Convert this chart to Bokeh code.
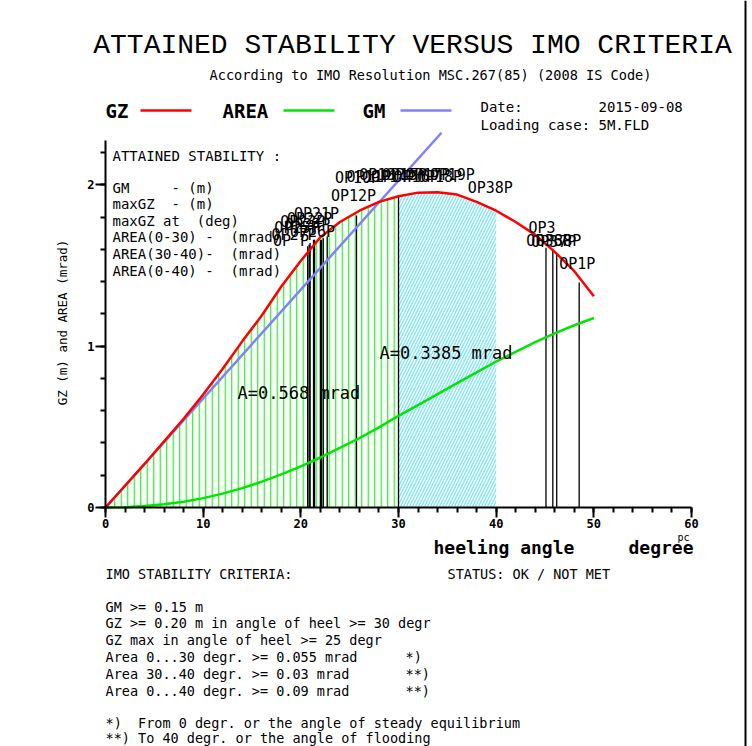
import numpy as np
from bokeh.plotting import figure
from bokeh.models import Range1d, FixedTicker, Span
from bokeh.embed import file_html
from bokeh.resources import INLINE
from bokeh.core.properties import value

# ---------------- data ----------------
angle = [0, 2, 4, 6, 8, 10, 12, 14, 16, 18, 20, 22, 24, 26, 28, 30,
         32, 34, 36, 38, 40, 42, 44, 46, 48, 50]
gz = [0.0, 0.135, 0.27, 0.41, 0.55, 0.70, 0.86, 1.03, 1.19, 1.37, 1.53, 1.675,
      1.77, 1.84, 1.895, 1.93, 1.952, 1.955, 1.94, 1.895, 1.84, 1.77, 1.69,
      1.585, 1.465, 1.31]
area = [0.0, 0.002, 0.009, 0.02, 0.036, 0.058, 0.086, 0.12, 0.16, 0.205, 0.255,
        0.31, 0.37, 0.43, 0.497, 0.568, 0.635, 0.703, 0.771, 0.838, 0.905,
        0.965, 1.025, 1.08, 1.13, 1.175]
GM = 3.87            # m, initial metacentric height
gm_line_end = 34.4   # deg, where the GM tangent line stops
area_0_30 = 0.568
area_30_40 = 0.3385

# opening (flooding) points: vertical marker lines
op_line_angle = [20.7, 20.85, 20.95, 21.3, 21.4, 22.0, 22.1, 22.3, 22.7, 25.7, 30.0,
                 45.1, 45.8, 46.2, 48.5]
op_line_top = [1.62, 1.63, 1.64, 1.66, 1.66, 1.66, 1.66, 1.67, 1.68, 1.81, 1.93,
               1.61, 1.60, 1.58, 1.395]
# opening labels
op_label = ["OP21P", "OP22P", "OP23P", "OP24P", "OP25P", "OP26P", "OP27P", "OP P",
            "OP12P",
            "OP10P", "OP11P", "OP13P", "OP14P", "OP15P", "OP16P", "OP17P", "OP18P", "OP19P",
            "OP38P", "OP3", "OP36P", "OP37P", "OP38P", "OP1P"]
op_label_x = [21.6, 20.9, 20.2, 20.7, 19.6, 21.2, 19.3, 19.0,
              25.4,
              25.8, 27.0, 28.3, 29.5, 30.6, 31.8, 33.0, 34.2, 35.5,
              39.4, 44.7, 45.4, 45.9, 46.4, 48.3]
op_label_y = [1.82, 1.79, 1.77, 1.75, 1.73, 1.71, 1.69, 1.65,
              1.93,
              2.04, 2.05, 2.06, 2.05, 2.06, 2.05, 2.06, 2.05, 2.06,
              1.98, 1.73, 1.655, 1.645, 1.655, 1.51]

x_major = [0, 10, 20, 30, 40, 50, 60]
x_minor = [0, 2, 4, 6, 8, 10, 12, 14, 16, 18, 20, 22, 24, 26, 28, 30, 32, 34, 36,
           38, 40, 42, 44, 46, 48, 50, 52, 54, 56, 58, 60]
y_major = [0, 1, 2]
y_minor = [0, 0.2, 0.4, 0.6, 0.8, 1.0, 1.2, 1.4, 1.6, 1.8, 2.0, 2.2]

NB = "\u00a0"
criteria_lines = [
    "GM >= 0.15 m",
    "GZ >= 0.20 m in angle of heel >= 30 degr",
    "GZ max in angle of heel >= 25 degr",
    "Area 0...30 degr. >= 0.055 mrad",
    "Area 30..40 degr. >= 0.03 mrad",
    "Area 0...40 degr. >= 0.09 mrad",
]
criteria_marks = ["", "", "", "*)", "**)", "**)"]
footnotes = ["*)" + NB * 2 + "From 0 degr. or the angle of steady equilibrium",
             "**) To 40 degr. or the angle of flooding"]
attained_lines = [
    "GM" + NB * 5 + "-" + NB + "(m)",
    "maxGZ" + NB * 2 + "-" + NB + "(m)",
    "maxGZ at" + NB * 2 + "(deg)",
    "AREA(0-30)" + NB + "-" + NB * 2 + "(mrad)",
    "AREA(30-40)-" + NB * 2 + "(mrad)",
    "AREA(0-40)" + NB + "-" + NB * 2 + "(mrad)",
]

# ---------------- page layout helpers (pixel -> data) ----------------
W, H = 752, 746
X0, XS = 105.0, 9.7667   # pixel of 0 deg, pixels per degree
Y0, YS = 507.0, 161.3    # pixel of 0 m, pixels per metre


def dx(px):
    return (px - X0) / XS


def dy(py):
    return (Y0 - py) / YS


MONO = value("DejaVu Sans Mono")

p = figure(width=W, height=H, x_range=Range1d(dx(0), dx(W)), y_range=Range1d(dy(H), dy(0)),
           output_backend="svg", toolbar_location=None, min_border=0)
p.outline_line_color = None
p.grid.visible = False
p.background_fill_color = "white"

# axes through the origin
xa = p.xaxis[0]
xa.fixed_location = 0
xa.bounds = (0, 60)
xa.ticker = FixedTicker(ticks=x_major, minor_ticks=x_minor)
ya = p.yaxis[0]
ya.fixed_location = 0
ya.bounds = (0, dy(140))
ya.ticker = FixedTicker(ticks=y_major, minor_ticks=y_minor)
for ax in (xa, ya):
    ax.axis_line_width = 2
    ax.axis_line_color = "black"
    ax.major_tick_in = 0
    ax.major_tick_out = 10
    ax.minor_tick_in = 0
    ax.minor_tick_out = 5
    ax.major_tick_line_width = 2
    ax.minor_tick_line_width = 2
    ax.major_label_text_font = "DejaVu Sans Mono"
    ax.major_label_text_font_style = "bold"
    ax.major_label_text_font_size = "12px"
    ax.major_label_text_color = "black"
    ax.major_label_standoff = 1

a030 = [a for a in angle if a <= 30]
g030 = [g for a, g in zip(angle, gz) if a <= 30]
a3040 = [a for a in angle if 30 <= a <= 40]
g3040 = [g for a, g in zip(angle, gz) if 30 <= a <= 40]

# hatched areas
p.varea(x=a030, y1=0, y2=g030, fill_color=None, hatch_pattern="|",
        hatch_color="#22ee22", hatch_scale=6.5, hatch_weight=1.2)
p.varea(x=a3040, y1=0, y2=g3040, fill_color=None, hatch_pattern="/",
        hatch_color="#8ae6f5", hatch_scale=6, hatch_weight=1.5)

# opening marker lines
p.segment(x0=op_line_angle, y0=0, x1=op_line_angle, y1=op_line_top,
          line_color="black", line_width=1.3)

# curves
p.line(angle, area, line_color="#00e600", line_width=2.5)
p.line([0, gm_line_end], [0, GM * gm_line_end / 57.3], line_color="#8080ff", line_width=2.5)
p.line(angle, gz, line_color="#ff0000", line_width=2.5)

# opening labels
p.text(x=op_label_x, y=op_label_y, text=op_label, text_font=MONO, text_font_size="15px",
       text_align="center", text_baseline="middle", text_color="black")

# area labels
p.text(x=[dx(237)], y=[dy(392)], text=["A=%.3f mrad" % area_0_30], text_font=MONO,
       text_font_size="17px", text_baseline="middle", text_color="black")
p.text(x=[dx(379)], y=[dy(352)], text=["A=%.4f mrad" % area_30_40], text_font=MONO,
       text_font_size="17px", text_baseline="middle", text_color="black")

# title
p.text(x=[dx(412)], y=[dy(45)], text=["ATTAINED STABILITY VERSUS IMO CRITERIA"],
       text_font=value("Liberation Mono"),
       text_font_size="28px", text_align="center", text_baseline="middle", text_color="black")
p.text(x=[dx(430)], y=[dy(74)], text=["According to IMO Resolution MSC.267(85) (2008 IS Code)"],
       text_font=MONO, text_font_size="13.6px", text_align="center", text_baseline="middle",
       text_color="black")

# legend
p.text(x=[dx(105), dx(222), dx(362)], y=[dy(110)] * 3, text=["GZ", "AREA", "GM"], text_font=MONO,
       text_font_size="19px", text_font_style="bold", text_baseline="middle", text_color="black")
p.segment(x0=[dx(140)], y0=[dy(110)], x1=[dx(191)], y1=[dy(110)], line_color="#ff0000", line_width=2.5)
p.segment(x0=[dx(283)], y0=[dy(110)], x1=[dx(334)], y1=[dy(110)], line_color="#00e600", line_width=2.5)
p.segment(x0=[dx(400)], y0=[dy(110)], x1=[dx(451)], y1=[dy(110)], line_color="#8080ff", line_width=2.5)
p.text(x=[dx(480), dx(598), dx(480)], y=[dy(106), dy(106), dy(124)],
       text=["Date:", "2015-09-08", "Loading case: 5M.FLD"], text_font=MONO,
       text_font_size="14px", text_baseline="middle", text_color="black")

# attained stability box
p.text(x=[dx(112)], y=[dy(155)], text=["ATTAINED STABILITY :"], text_font=MONO,
       text_font_size="14px", text_baseline="middle", text_color="black")
p.text(x=[dx(112)] * 6, y=[dy(187 + 16.6 * i) for i in range(6)], text=attained_lines,
       text_font=MONO, text_font_size="14px", text_baseline="middle", text_color="black")

# axis titles
p.text(x=[dx(62)], y=[dy(322)], text=["GZ (m) and AREA (mrad)"], angle=np.pi / 2,
       text_font=MONO, text_font_size="12.5px", text_align="center", text_baseline="middle",
       text_color="black")
p.text(x=[dx(433), dx(628)], y=[dy(547)] * 2, text=["heeling angle", "degree"], text_font=MONO,
       text_font_size="18px", text_font_style="bold", text_baseline="middle", text_color="black")
p.text(x=[dx(683)], y=[dy(537)], text=["pc"], text_font=MONO, text_font_size="10px",
       text_align="center", text_baseline="middle", text_color="black")

# criteria block
p.text(x=[dx(105), dx(447)], y=[dy(573)] * 2, text=["IMO STABILITY CRITERIA:", "STATUS: OK / NOT MET"],
       text_font=MONO, text_font_size="13.5px", text_baseline="middle", text_color="black")
p.text(x=[dx(105)] * 6, y=[dy(606 + 16.8 * i) for i in range(6)], text=criteria_lines,
       text_font=MONO, text_font_size="13.5px", text_baseline="middle", text_color="black")
p.text(x=[dx(405)] * 6, y=[dy(606 + 16.8 * i) for i in range(6)], text=criteria_marks,
       text_font=MONO, text_font_size="13.5px", text_baseline="middle", text_color="black")
p.text(x=[dx(105)] * 2, y=[dy(722), dy(737)], text=footnotes,
       text_font=MONO, text_font_size="13.5px", text_baseline="middle", text_color="black")

# page border on the right
p.add_layout(Span(location=dx(745), dimension="height", line_color="black", line_width=2))

open("out.html", "w").write(file_html(p, INLINE))
